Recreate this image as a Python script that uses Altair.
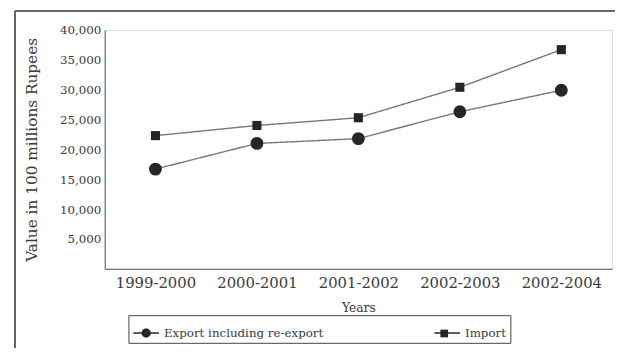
import altair as alt
import pandas as pd

years = ["1999-2000", "2000-2001", "2001-2002", "2002-2003", "2002-2004"]
export_vals = [16700, 21000, 21800, 26300, 29900]
import_vals = [22300, 24000, 25300, 30400, 36700]
series_names = ["Export including re-export", "Import"]
y_ticks = [5000, 10000, 15000, 20000, 25000, 30000, 35000, 40000]

rows = []
for y, v in zip(years, export_vals):
    rows.append({"year": y, "value": v, "series": series_names[0], "marker": series_names[0]})
for y, v in zip(years, import_vals):
    rows.append({"year": y, "value": v, "series": series_names[1], "marker": series_names[1]})
df = pd.DataFrame(rows)

FONT = "DejaVu Serif"
TXT = "#3a3a3a"
LEG = dict(title=None, orient="none", legendX=24, legendY=289, direction="horizontal",
           padding=4, symbolSize=676, labelFont=FONT, labelFontSize=12,
           columnPadding=108, labelLimit=300)

x_enc = alt.X("year:N", sort=years,
              axis=alt.Axis(title="Years", labelAngle=0, ticks=False, labelFontSize=15,
                            labelPadding=7, titleFontSize=12.5, titlePadding=11,
                            titleFontWeight="normal", domainColor="#555", labelColor=TXT,
                            titleColor=TXT, labelFont=FONT, titleFont=FONT))
y_enc = alt.Y("value:Q", scale=alt.Scale(domain=[0, 40000], nice=False),
              axis=alt.Axis(title="Value in 100 millions Rupees", values=y_ticks, format=",d",
                            ticks=False, grid=False, labelFontSize=12, labelPadding=4,
                            titleFontSize=15.5, titlePadding=20, titleFontWeight="normal",
                            domainColor="#555", labelColor=TXT, titleColor=TXT,
                            labelFont=FONT, titleFont=FONT))

base = alt.Chart(df)

# line legend: domain comes from the data (sorted), so it is not merged with the marker legend
lines = base.mark_line(color="#777", strokeWidth=1.4).encode(
    x=x_enc, y=y_enc,
    strokeDash=alt.StrokeDash("series:N",
                              scale=alt.Scale(range=[[1, 0], [1, 0]]),
                              legend=alt.Legend(symbolType="stroke", symbolStrokeColor="#262626",
                                                symbolStrokeWidth=1.6, strokeColor="#444",
                                                labelColor=TXT, **LEG)))

circles = base.transform_filter(alt.datum.series == series_names[0]).mark_point(
    shape="circle", filled=True, color="#262626", size=170, opacity=1).encode(x=x_enc, y=y_enc)

squares = base.transform_filter(alt.datum.series == series_names[1]).mark_point(
    shape="square", filled=True, color="#262626", size=85, opacity=1).encode(x=x_enc, y=y_enc)

circ_path = "M0.36,0A0.36,0.36,0,1,1,-0.36,0A0.36,0.36,0,1,1,0.36,0Z"
sq_path = "M-0.3,-0.3L0.3,-0.3L0.3,0.3L-0.3,0.3Z"

legend_layer = base.transform_filter("false").mark_point(
    filled=True, color="#262626").encode(
    x=x_enc, y=y_enc,
    shape=alt.Shape("marker:N",
                    scale=alt.Scale(domain=series_names, range=[circ_path, sq_path]),
                    legend=alt.Legend(symbolFillColor="#262626", symbolOpacity=1,
                                      labelOpacity=0, **LEG)))

frame_top = alt.Chart(df).mark_rule(color="#666", strokeWidth=1).encode(
    x=alt.value(-91), x2=alt.value(520), y=alt.value(-19))
frame_left = alt.Chart(df).mark_rule(color="#666", strokeWidth=1.5).encode(
    x=alt.value(-91), y=alt.value(-19), y2=alt.value(340))

chart = alt.layer(lines, circles, squares, legend_layer, frame_top, frame_left).properties(
    width=514, height=242,
    autosize=alt.AutoSizeParams(type="none"),
    padding={"left": 98, "top": 20, "right": 3, "bottom": 78},
).configure_view(stroke=None).configure(background="white")

chart.save("out.html", embed_options={"renderer": "svg", "actions": False})
